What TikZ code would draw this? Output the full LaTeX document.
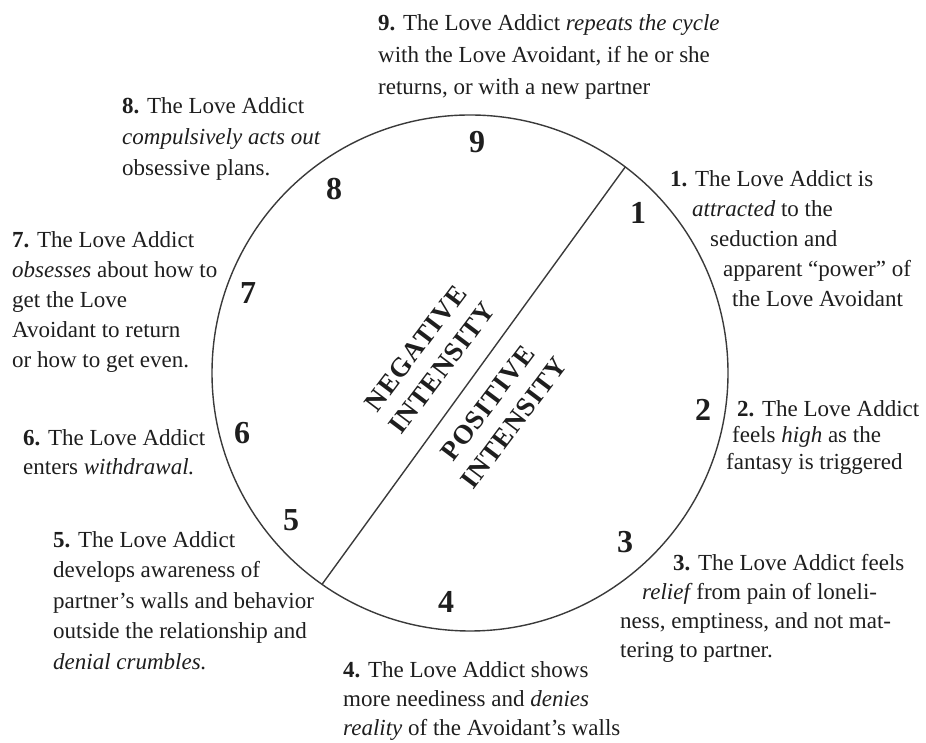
\documentclass[tikz,border=0pt]{standalone}
\usepackage{fontspec}
\setmainfont{Liberation Serif}
\newfontfamily\capsfont[LetterSpace=4]{Liberation Serif}
\definecolor{ink}{HTML}{1E1E1E}
\definecolor{rimcol}{HTML}{3A3A3A}
\tikzset{
  desc/.style={anchor=north west, inner sep=0pt, align=left, text=ink,
    font=\fontsize{23}{#1}\selectfont},
  desc/.default=30,
  num/.style={inner sep=0pt, text=ink, font=\fontsize{32}{32}\selectfont\bfseries},
  zone/.style={inner sep=0pt, align=center, text=ink, rotate=53,
    font=\capsfont\bfseries\fontsize{27}{33}\selectfont},
  rim/.style={draw=rimcol, line width=1.4pt},
}
\begin{document}
\begin{tikzpicture}[x=1pt,y=1pt]
\useasboundingbox (0,0) rectangle (926,743);
\coordinate (c) at (470,370);
\node[rim, circle, minimum size=516pt, inner sep=0pt, outer sep=0pt] (ring) at (c) {};
\draw[rim] (ring.53) -- (ring.235);

% numbers
\node[num] (n1) at (638,530) {1};
\node[num] (n2) at (703,333) {2};
\node[num] (n3) at (625,201) {3};
\node[num] (n4) at (446,141) {4};
\node[num] (n5) at (291,223) {5};
\node[num] (n6) at (242,310) {6};
\node[num] (n7) at (248,450) {7};
\node[num] (n8) at (334,554) {8};
\node[num] (n9) at (477,601) {9};

% zone labels
\node[zone] (neg) at (429,385) {NEGATIVE\\INTENSITY};
\node[zone] (pos) at (501,330) {POSITIVE\\INTENSITY};

% descriptions
\node[desc=32] (t9) at (378,729) {\textbf{9.} The Love Addict \textit{repeats the cycle}\\
  with the Love Avoidant, if he or she\\
  returns, or with a new partner};
\node[desc=31] (t8) at (122,646) {\textbf{8.} The Love Addict\\
  \textit{compulsively acts out}\\
  obsessive plans.};
\node[desc=30] (t7) at (12,512) {\textbf{7.} The Love Addict\\
  \textit{obsesses} about how to\\
  get the Love\\
  Avoidant to return\\
  or how to get even.};
\node[desc=29] (t6) at (23,314) {\textbf{6.} The Love Addict\\
  enters \textit{withdrawal.}};
\node[desc=30.5] (t5) at (53,212) {\textbf{5.} The Love Addict\\
  develops awareness of\\
  partner's walls and behavior\\
  outside the relationship and\\
  \textit{denial crumbles.}};
\node[desc=29] (t4) at (343,82) {\textbf{4.} The Love Addict shows\\
  more neediness and \textit{denies}\\
  \textit{reality} of the Avoidant's walls};
\node[desc=30] (t1) at (670,573) {\textbf{1.} The Love Addict is\\
  \hspace*{22pt}\textit{attracted} to the\\
  \hspace*{40pt}seduction and\\
  \hspace*{53pt}apparent ``power'' of\\
  \hspace*{62pt}the Love Avoidant};
\node[desc=26.5] (t2) at (726,343) {\hspace*{11pt}\textbf{2.} The Love Addict\\
  \hspace*{6pt}feels \textit{high} as the\\
  fantasy is triggered};
\node[desc=29] (t3) at (620,189) {\hspace*{53pt}\textbf{3.} The Love Addict feels\\
  \hspace*{22pt}\textit{relief}\,from pain of loneli-\\
  ness, emptiness, and not mat-\\
  tering to partner.};
\end{tikzpicture}
\end{document}
